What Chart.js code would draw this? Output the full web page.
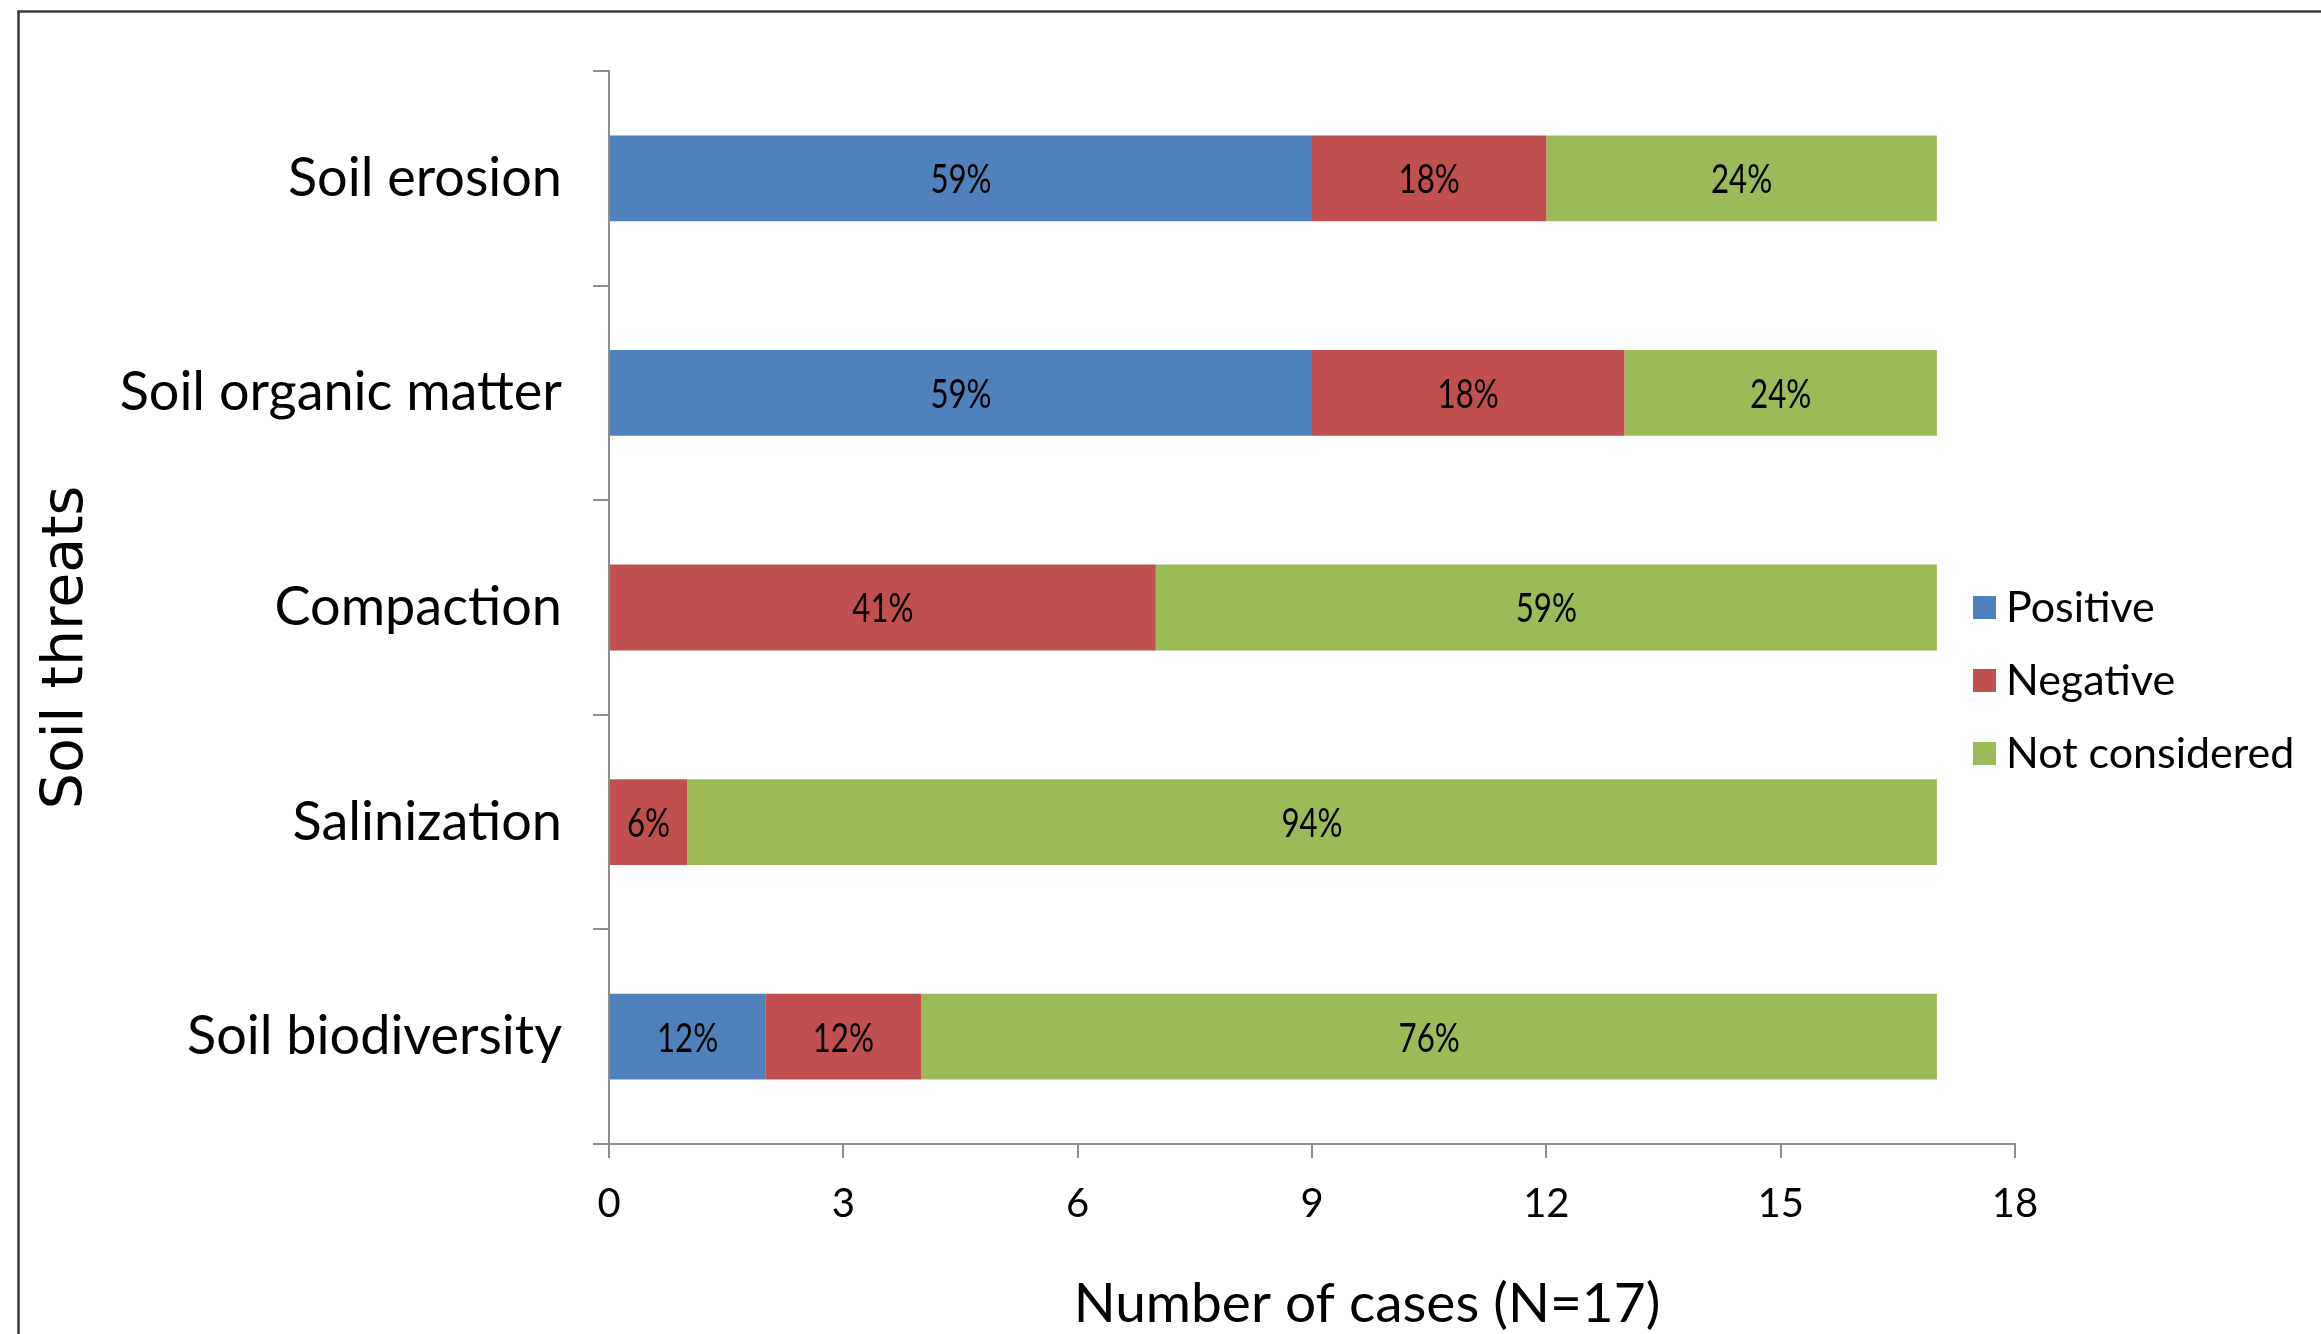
<!DOCTYPE html>
<html>
<head>
<meta charset="utf-8">
<title>Soil threats</title>
<script src="https://cdn.jsdelivr.net/npm/chart.js@4.4.1/dist/chart.umd.min.js"></script>
<style>
  html, body { margin: 0; padding: 0; background: #fff; }
  #wrap { position: relative; width: 2321px; height: 1334px; }
</style>
</head>
<body>
<div id="wrap"><canvas id="chart"></canvas></div>
<script>
// Categories, top to bottom
const categories = ["Soil erosion", "Soil organic matter", "Compaction", "Salinization", "Soil biodiversity"];

// Number of cases per effect
const positive = [9, 9, 0, 0, 2];
const negative = [3, 4, 7, 1, 2];
const notConsidered = [5, 4, 10, 16, 13];

// Percent labels as printed on the bars
const positiveLabels = ["59%", "59%", "", "", "12%"];
const negativeLabels = ["18%", "18%", "41%", "6%", "12%"];
const notConsideredLabels = ["24%", "24%", "59%", "94%", "76%"];

const xTicks = [0, 3, 6, 9, 12, 15, 18];

const xTitle = "Number of cases (N=17)";
const yTitle = "Soil threats";

// Excel 2007 palette
const blue = "#4F81BD";
const red = "#C0504D";
const green = "#9BBB59";
const axisGray = "#8e8e8e";

const FONT = "Lato, 'Open Sans', sans-serif";

// Outer frame round the chart
const framePlugin = {
  id: "frame",
  beforeDraw(chart) {
    const { ctx } = chart;
    ctx.save();
    ctx.strokeStyle = "#3a3a3a";
    ctx.lineWidth = 2.5;
    ctx.strokeRect(18.5, 11.5, chart.width + 50, chart.height + 50);
    ctx.restore();
  },
};

// Percent text centred in every segment
const barLabels = {
  id: "barLabels",
  afterDatasetsDraw(chart) {
    const { ctx } = chart;
    ctx.save();
    ctx.font = "40px " + FONT;
    ctx.fillStyle = "#000";
    ctx.textAlign = "center";
    ctx.textBaseline = "middle";
    chart.data.datasets.forEach((ds, i) => {
      const meta = chart.getDatasetMeta(i);
      meta.data.forEach((bar, j) => {
        if (!ds.data[j]) return;
        const { x, y } = bar.getCenterPoint();
        ctx.save();
        ctx.translate(x, y + 2);
        // the labels in the source are set in a narrow face
        ctx.scale(0.78, 1);
        ctx.fillText(ds.pctLabels[j], 0, 0);
        ctx.restore();
      });
    });
    ctx.restore();
  },
};

// Legend sits inside the plot, right of the bars
const sideLegend = {
  id: "sideLegend",
  afterDraw(chart) {
    const { ctx, chartArea } = chart;
    const yScale = chart.scales.y;
    const x0 = chartArea.right - 42;
    let y = yScale.getPixelForValue(2);
    ctx.save();
    ctx.font = "43px " + FONT;
    ctx.textAlign = "left";
    ctx.textBaseline = "middle";
    chart.data.datasets.forEach((ds) => {
      ctx.fillStyle = ds.backgroundColor;
      ctx.fillRect(x0, y - 11.5, 23, 23);
      ctx.fillStyle = "#000";
      ctx.fillText(ds.label, x0 + 33, y + 1);
      y += 73;
    });
    ctx.restore();
  },
};

// Axis titles, placed the way Excel put them (a bit off the plot centre)
const axisTitles = {
  id: "axisTitles",
  afterDraw(chart) {
    const { ctx, chartArea } = chart;
    ctx.save();
    ctx.fillStyle = "#000";
    ctx.textAlign = "center";
    ctx.textBaseline = "middle";
    ctx.font = "55px " + FONT;
    ctx.fillText(xTitle, (chartArea.left + chartArea.right) / 2 + 55, chart.height - 30);
    ctx.translate(67, (chartArea.top + chartArea.bottom) / 2 + 40);
    ctx.rotate(-Math.PI / 2);
    ctx.font = "57px 'DejaVu Sans', sans-serif";
    ctx.fillText(yTitle, 0, 0);
    ctx.restore();
  },
};

const config = {
  type: "bar",
  data: {
    labels: categories,
    datasets: [
      { label: "Positive", data: positive, backgroundColor: blue, pctLabels: positiveLabels },
      { label: "Negative", data: negative, backgroundColor: red, pctLabels: negativeLabels },
      { label: "Not considered", data: notConsidered, backgroundColor: green, pctLabels: notConsideredLabels },
    ],
  },
  options: {
    indexAxis: "y",
    responsive: true,
    maintainAspectRatio: false,
    devicePixelRatio: 1,
    animation: false,
    borderWidth: 0,
    categoryPercentage: 1,
    barPercentage: 0.4,
    layout: { padding: { top: 71, right: 306, bottom: 0, left: 0 } },
    plugins: {
      legend: { display: false },
      tooltip: { enabled: false },
    },
    scales: {
      x: {
        stacked: true,
        min: 0,
        max: 18,
        afterBuildTicks(scale) {
          scale.ticks = xTicks.map((v) => ({ value: v }));
        },
        afterFit(scale) {
          scale.height = 190;
        },
        grid: {
          drawOnChartArea: false,
          drawTicks: true,
          tickLength: 14,
          color: axisGray,
          lineWidth: 2,
        },
        border: { color: axisGray, width: 2 },
        ticks: {
          color: "#000",
          padding: 22,
          font: { family: FONT, size: 40 },
        },
      },
      y: {
        stacked: true,
        afterFit(scale) {
          scale.width = 609;
        },
        grid: {
          offset: true,
          drawOnChartArea: false,
          drawTicks: true,
          tickLength: 16,
          color: axisGray,
          lineWidth: 2,
        },
        border: { color: axisGray, width: 2 },
        ticks: {
          color: "#000",
          padding: 31,
          font: { family: FONT, size: 54 },
        },
      },
    },
  },
  plugins: [framePlugin, barLabels, sideLegend, axisTitles],
};

const ctx = document.getElementById("chart").getContext("2d");
const myChart = new Chart(ctx, config);
</script>
</body>
</html>
